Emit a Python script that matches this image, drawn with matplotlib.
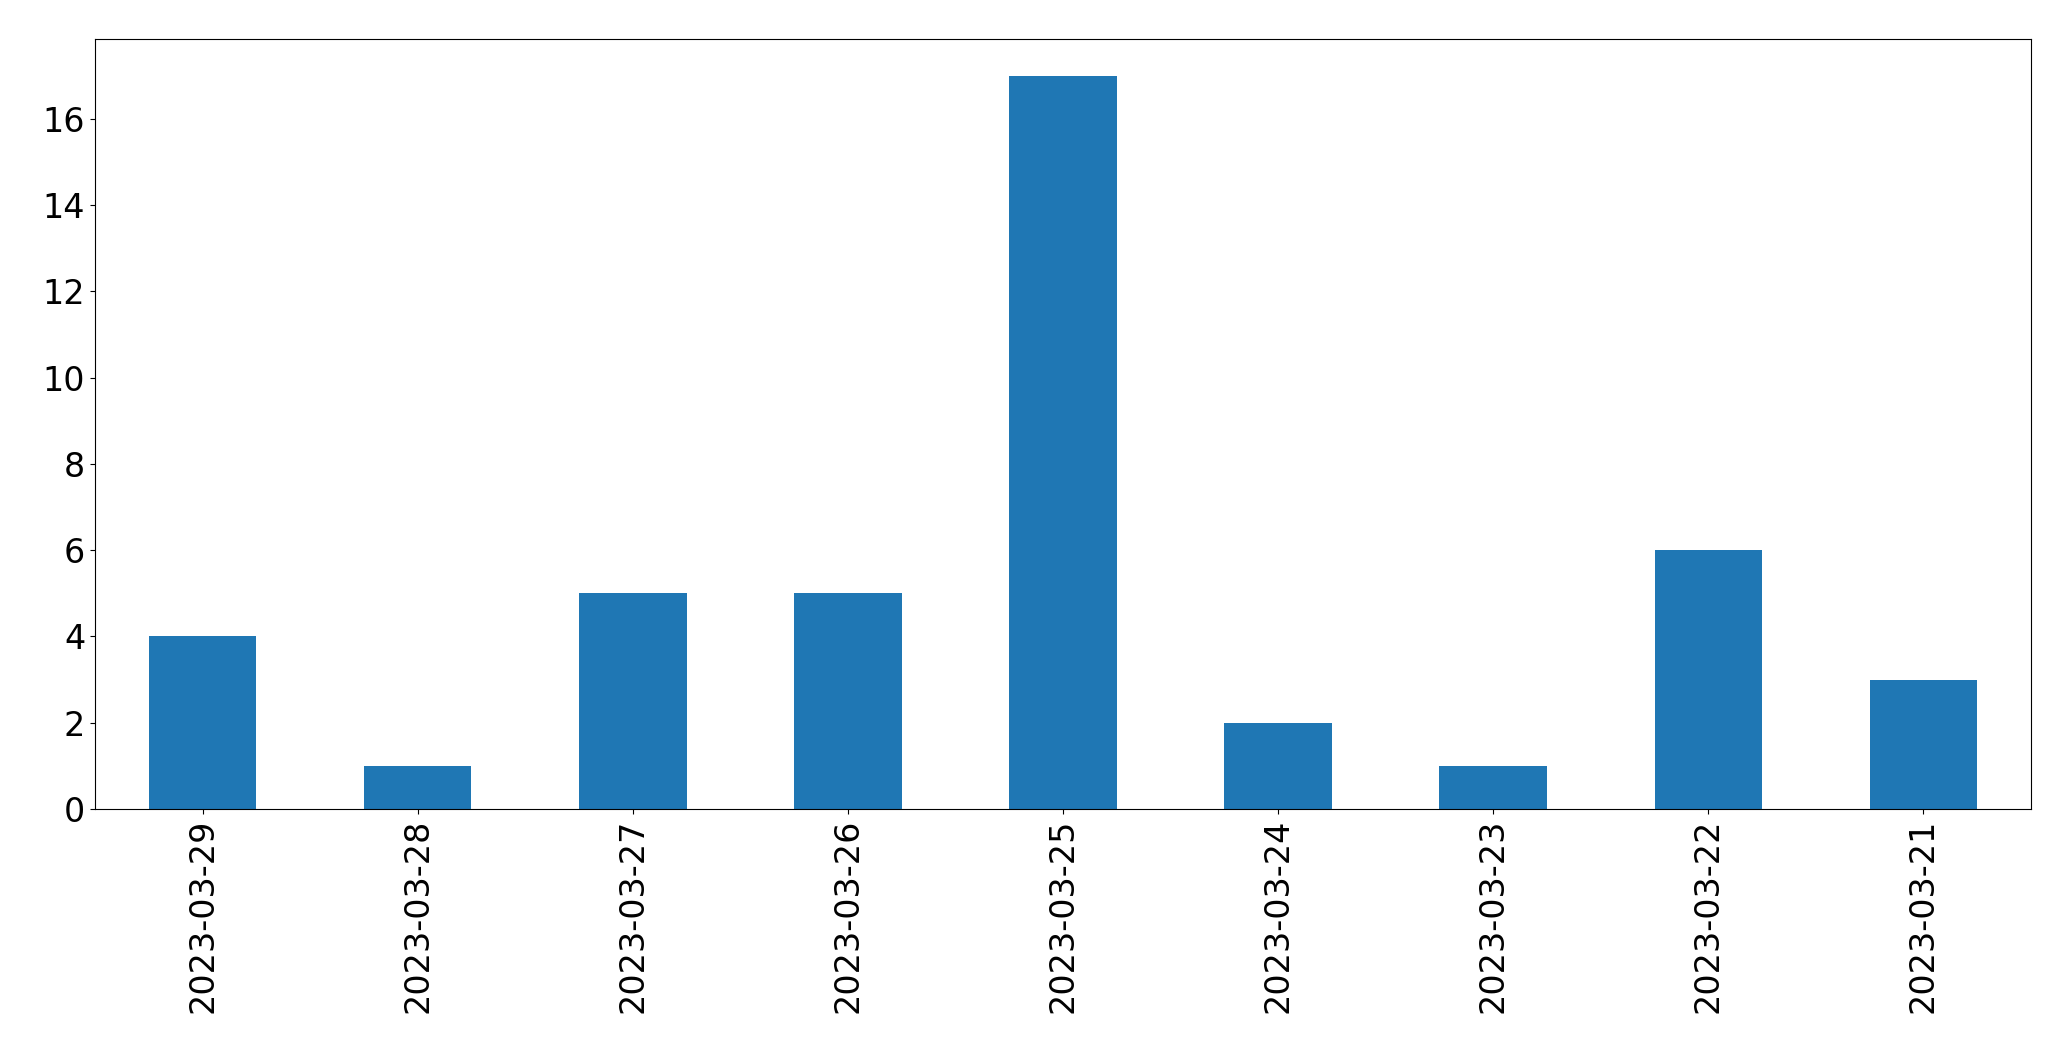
import matplotlib
matplotlib.use("Agg")
import matplotlib.pyplot as plt

dates = ["2023-03-29", "2023-03-28", "2023-03-27", "2023-03-26", "2023-03-25",
         "2023-03-24", "2023-03-23", "2023-03-22", "2023-03-21"]
counts = [4, 1, 5, 5, 17, 2, 1, 6, 3]

fig = plt.figure(figsize=(20.71, 10.61), dpi=100)
ax = fig.add_subplot(111)
fig.subplots_adjust(left=0.0459, right=0.9807, top=0.9632, bottom=0.2375)

x = list(range(len(dates)))
ax.bar(x, counts, width=0.5, color="#1f77b4")
ax.set_xlim(-0.5, len(dates) - 0.5)
ax.set_xticks(x)
ax.set_xticklabels(dates, rotation=90, fontsize=24)
ax.tick_params(axis="y", labelsize=24)

fig.savefig("out.png", dpi=100)
